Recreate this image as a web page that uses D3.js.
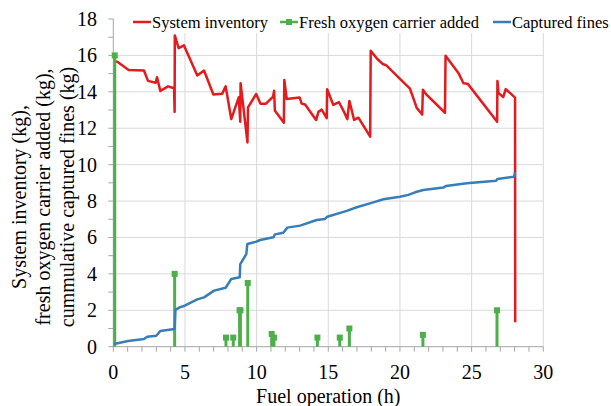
<!DOCTYPE html>
<html>
<head>
    <meta charset="UTF-8">
    <script src="https://cdnjs.cloudflare.com/ajax/libs/d3/7.8.5/d3.min.js"></script>
</head>
<body style="margin:0">
    <svg id="chart" width="611" height="406"></svg>
    <script>
        // System inventory (kg) vs fuel operation (h)
        const invHours = [0.1, 0.33, 1.07, 2.14, 2.42, 2.96, 3.05, 3.28, 3.82, 4.24, 4.28, 4.29, 4.56, 4.93,
            5.86, 6.33, 6.98, 7.6, 7.84, 8.23, 8.75, 8.86, 8.88, 9.36, 9.4, 9.97, 10.27, 10.65, 11.15, 11.22,
            11.27, 11.9, 11.93, 12.1, 13.0, 13.14, 13.38, 14.15, 14.31, 14.54, 14.89, 14.92, 15.35, 15.75,
            16.05, 16.33, 16.47, 16.8, 17.1, 17.92, 17.96, 18.42, 18.8, 19.05, 20.0, 20.7, 21.17, 21.55,
            21.6, 21.87, 23.14, 23.18, 24.1, 24.43, 24.72, 26.78, 26.8, 26.88, 27.21, 27.38, 28.03, 28.04];
        const invValues = [15.7, 15.63, 15.2, 15.17, 14.6, 14.5, 14.8, 14.05, 14.3, 14.2, 12.9, 17.1, 16.4, 16.55,
            14.9, 15.17, 13.85, 13.9, 14.3, 12.5, 13.7, 12.36, 14.47, 11.22, 13.15, 13.88, 13.35, 13.35, 13.74, 14.06,
            12.97, 12.3, 14.65, 13.6, 13.69, 13.35, 13.3, 12.45, 12.9, 13.02, 12.55, 14.14, 13.28, 13.43,
            12.97, 12.5, 13.5, 12.46, 12.58, 11.54, 16.25, 15.8, 15.53, 15.45, 14.71, 14.17, 13.12, 12.75,
            14.12, 13.83, 12.85, 15.98, 15.0, 14.47, 14.45, 12.36, 14.6, 13.92, 13.72, 14.15, 13.68, 1.34];

        // Fresh oxygen carrier added (kg)
        const addHours = [0.1, 4.28, 7.86, 8.37, 8.81, 8.87, 9.38, 11.05, 11.21, 14.24, 15.8, 16.47, 21.6, 26.77];
        const addValues = [16, 4, 0.5, 0.5, 2, 2, 3.5, 0.7, 0.5, 0.5, 0.5, 1, 0.65, 2];

        // Cumulative captured fines (kg)
        const finesHours = [0.05, 1.03, 2.14, 2.37, 3.0, 3.28, 4.28, 4.33, 4.63, 4.98, 5.86, 6.33, 7.03, 7.84,
            8.23, 8.82, 8.86, 9.28, 9.35, 9.98, 10.24, 11.17, 11.28, 11.86, 12.14, 13.03, 14.19, 14.77, 14.93,
            16.29, 16.98, 18.14, 18.84, 20.0, 20.59, 21.05, 21.63, 23.03, 23.22, 24.66, 26.71, 26.8, 27.96, 28.03];
        const finesValues = [0.15, 0.31, 0.42, 0.55, 0.6, 0.86, 0.97, 2.02, 2.16, 2.25, 2.6, 2.71, 3.08, 3.24,
            3.72, 3.81, 4.54, 5.09, 5.64, 5.77, 5.86, 6.01, 6.17, 6.26, 6.54, 6.65, 6.96, 7.02, 7.14,
            7.46, 7.66, 7.93, 8.1, 8.24, 8.34, 8.48, 8.61, 8.74, 8.83, 8.98, 9.12, 9.21, 9.34, 9.6];

        const xTicks = [0, 5, 10, 15, 20, 25, 30];
        const yTicks = [0, 2, 4, 6, 8, 10, 12, 14, 16, 18];
        const legendNames = ["System inventory", "Fresh oxygen carrier added", "Captured fines"];
        const yTitleLines = ["System inventory (kg),", "fresh oxygen carrier added (kg),", "cummulative captured fines (kg)"];

        const red = "#e41a1c", green = "#4daf4a", blue = "#377eb8";
        const gridColor = "#d9d9d9", axisColor = "#a6a6a6";
        const font = "Liberation Serif";

        const svg = d3.select("#chart").style("display", "block");
        const x = d3.scaleLinear().domain([0, 30]).range([113.3, 543.3]);
        const y = d3.scaleLinear().domain([0, 18]).range([346.7, 19]);

        const inventory = invHours.map((h, i) => ({ h, v: invValues[i] }));
        const added = addHours.map((h, i) => ({ h, v: addValues[i] }));
        const fines = finesHours.map((h, i) => ({ h, v: finesValues[i] }));

        // Gridlines
        svg.append("g")
            .selectAll("line")
            .data(yTicks.slice(1))
            .join("line")
            .attr("x1", x(0)).attr("x2", x(30))
            .attr("y1", d => y(d)).attr("y2", d => y(d))
            .attr("stroke", gridColor).attr("stroke-width", 1);

        svg.append("g")
            .selectAll("line")
            .data(xTicks.slice(1))
            .join("line")
            .attr("x1", d => x(d)).attr("x2", d => x(d))
            .attr("y1", y(0)).attr("y2", y(18))
            .attr("stroke", gridColor).attr("stroke-width", 1);

        // Axis lines and tick marks (every hour / every kg)
        const axes = svg.append("g").attr("stroke", axisColor).attr("stroke-width", 1);
        axes.append("line")
            .attr("x1", x(0)).attr("x2", x(30)).attr("y1", y(0)).attr("y2", y(0));
        axes.append("line")
            .attr("x1", x(0)).attr("x2", x(0)).attr("y1", y(0)).attr("y2", y(18));
        axes.append("g")
            .selectAll("line")
            .data(d3.range(0, 31, 1))
            .join("line")
            .attr("x1", d => x(d)).attr("x2", d => x(d))
            .attr("y1", y(0)).attr("y2", y(0) + 5);
        axes.append("g")
            .selectAll("line")
            .data(d3.range(0, 19, 1))
            .join("line")
            .attr("x1", x(0) - 5).attr("x2", x(0))
            .attr("y1", d => y(d)).attr("y2", d => y(d));

        svg.append("g")
            .selectAll("text")
            .data(xTicks)
            .join("text")
            .attr("x", d => x(d))
            .attr("y", 372)
            .attr("dy", "0.35em")
            .attr("text-anchor", "middle")
            .attr("font-family", font)
            .attr("font-size", 20)
            .text(d => d);

        svg.append("g")
            .selectAll("text")
            .data(yTicks)
            .join("text")
            .attr("x", 97)
            .attr("y", d => y(d))
            .attr("dy", "0.35em")
            .attr("text-anchor", "end")
            .attr("font-family", font)
            .attr("font-size", 20)
            .text(d => d);

        // Axis titles
        svg.append("text")
            .attr("x", x(15))
            .attr("y", 396)
            .attr("dy", "0.35em")
            .attr("text-anchor", "middle")
            .attr("font-family", font)
            .attr("font-size", 20)
            .text("Fuel operation (h)");

        svg.append("g")
            .selectAll("text")
            .data(yTitleLines)
            .join("text")
            .attr("transform", (d, i) => `translate(${19 + i * 24},197) rotate(-90)`)
            .attr("dy", "0.35em")
            .attr("text-anchor", "middle")
            .attr("font-family", font)
            .attr("font-size", 20)
            .text(d => d);

        // Series
        const line = d3.line().x(d => x(d.h)).y(d => y(d.v));

        svg.append("path")
            .datum(inventory)
            .attr("fill", "none")
            .attr("stroke", red)
            .attr("stroke-width", 2.5)
            .attr("stroke-linejoin", "round")
            .attr("d", line);

        svg.append("g")
            .selectAll("line")
            .data(added)
            .join("line")
            .attr("x1", d => x(d.h)).attr("x2", d => x(d.h))
            .attr("y1", y(0)).attr("y2", d => y(d.v))
            .attr("stroke", green)
            .attr("stroke-width", 3);

        svg.append("g")
            .selectAll("rect")
            .data(added)
            .join("rect")
            .attr("x", d => x(d.h) - 3)
            .attr("y", d => y(d.v) - 3)
            .attr("width", 6)
            .attr("height", 6)
            .attr("fill", green);

        svg.append("path")
            .datum(fines)
            .attr("fill", "none")
            .attr("stroke", blue)
            .attr("stroke-width", 2.5)
            .attr("stroke-linejoin", "round")
            .attr("d", line);

        // Legend (white box hides the top gridline)
        const legend = svg.append("g");
        legend.append("rect")
            .attr("x", x(0) + 1).attr("y", 0)
            .attr("width", 611 - x(0)).attr("height", 33)
            .attr("fill", "#fff");

        const legendItems = [
            { name: legendNames[0], color: red, x0: 133, marker: false },
            { name: legendNames[1], color: green, x0: 280, marker: true },
            { name: legendNames[2], color: blue, x0: 493, marker: false }
        ];
        legendItems.forEach(it => {
            legend.append("line")
                .attr("x1", it.x0).attr("x2", it.x0 + 18)
                .attr("y1", 22).attr("y2", 22)
                .attr("stroke", it.color).attr("stroke-width", 2.5);
            if (it.marker) {
                legend.append("rect")
                    .attr("x", it.x0 + 6).attr("y", 19)
                    .attr("width", 6).attr("height", 6)
                    .attr("fill", it.color);
            }
            legend.append("text")
                .attr("x", it.x0 + 19)
                .attr("y", 22)
                .attr("dy", "0.35em")
                .attr("font-family", font)
                .attr("font-size", 16.5)
                .text(it.name);
        });
    </script>
</body>
</html>
